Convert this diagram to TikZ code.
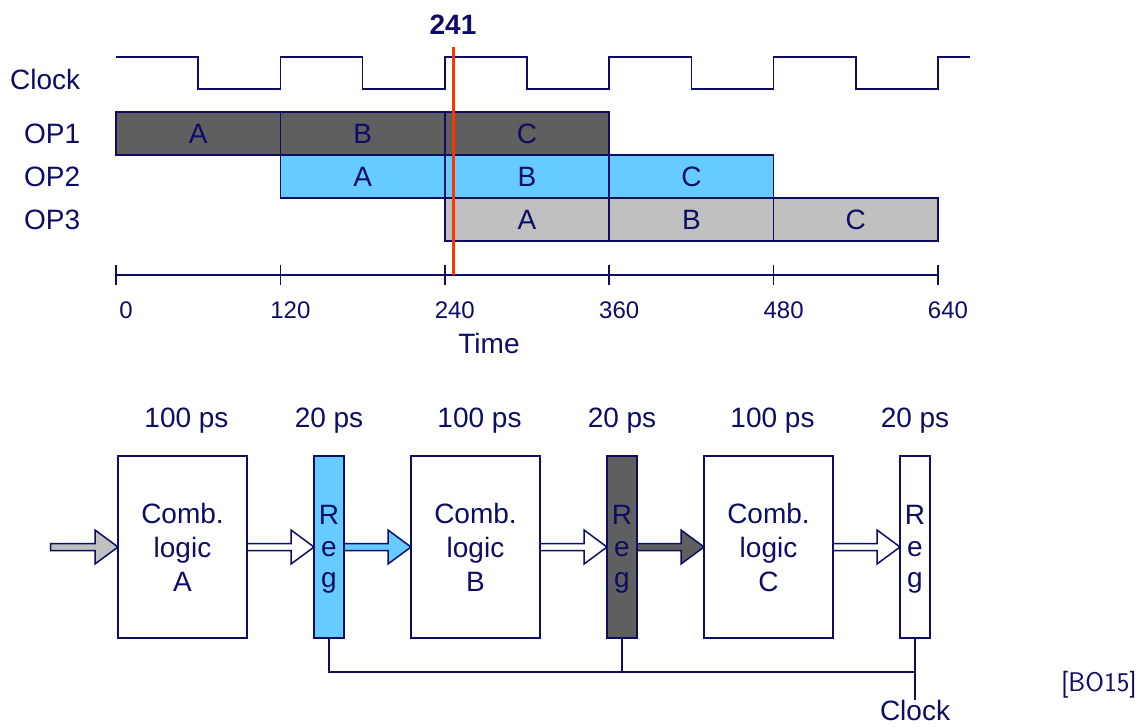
\documentclass[tikz,border=0pt]{standalone}
\usepackage{fontspec}
\setmainfont{Liberation Sans}
\usepackage{tikz}
\usetikzlibrary{positioning, calc}
\definecolor{plNavy}{HTML}{0D0D66}
\definecolor{plBlue}{HTML}{66CCFF}
\definecolor{plDark}{HTML}{5F5F5F}
\definecolor{plGray}{HTML}{C0C0C0}
\definecolor{plRed}{HTML}{FF3300}
\tikzset{
  pltext/.style={text=plNavy, font=\fontsize{28}{34}\selectfont, inner sep=0pt},
  plbar/.style={rectangle, draw=plNavy, line width=1.5pt, minimum width=164.4pt,
                minimum height=43pt, outer sep=0pt, pltext},
  plbox/.style={rectangle, draw=plNavy, line width=2pt, fill=white, minimum width=129pt,
                minimum height=182pt, outer sep=0pt, align=center, pltext},
  plreg/.style={plbox, minimum width=30pt, font=\fontsize{28}{31.5}\selectfont},
  plwire/.style={draw=plNavy, line width=1.5pt},
  plpipe/.style={draw=plNavy, line width=1.5pt, line join=miter},
  plcursor/.style={draw=plRed, line width=3pt},
}
% block arrow between two anchors, tip on the second one
\newcommand{\plpipe}[3][white]{%
  \draw[plpipe, fill=#1] ($(#2)+(0,3.5)$) -- ($(#3)+(-23,3.5)$) -- ($(#3)+(-23,17)$)
    -- (#3) -- ($(#3)+(-23,-17)$) -- ($(#3)+(-23,-3.5)$) -- ($(#2)+(0,-3.5)$) -- cycle;}

\begin{document}
\begin{tikzpicture}[x=1pt, y=1pt, node distance=0pt]
  \fill[white] (0,0) rectangle (1142,726);
  \useasboundingbox (0,0) rectangle (1142,726);
  % timing chart
  \node[pltext, anchor=west] (clkname) at (10,647) {Clock};
  \draw[plwire] (116,669) foreach \k in {0,...,4}{ -- ++(82.2,0) -- ++(0,-32) -- ++(82.2,0) -- ++(0,32)} -- ++(32,0);
  \node[pltext, anchor=west] (op1) at (24,592.5) {OP1};
  \node[pltext, anchor=west] (op2) at (24,549.5) {OP2};
  \node[pltext, anchor=west] (op3) at (24,506.5) {OP3};
  \node[plbar, fill=plDark, anchor=west] (op1a) at (116,592.5) {A};
  \node[plbar, fill=plDark, right=of op1a] (op1b) {B};
  \node[plbar, fill=plDark, right=of op1b] (op1c) {C};
  \node[plbar, fill=plBlue, below=of op1b] (op2a) {A};
  \node[plbar, fill=plBlue, right=of op2a] (op2b) {B};
  \node[plbar, fill=plBlue, right=of op2b] (op2c) {C};
  \node[plbar, fill=plGray, below=of op2b] (op3a) {A};
  \node[plbar, fill=plGray, right=of op3a] (op3b) {B};
  \node[plbar, fill=plGray, right=of op3b] (op3c) {C};
  % time axis
  \draw[plwire] (116,451) -- (938,451);
  \foreach \t/\x in {0/116, 120/280.4, 240/444.8, 360/609.2, 480/773.6, 640/938}{
    \draw[plwire] (\x,441) -- (\x,461);
    \node[pltext, font=\fontsize{24}{28}\selectfont] (t\t) at (\x+10,416) {\t};
  }
  \node[pltext] (time) at (489,383) {Time};
  % cursor
  \node[pltext, font=\fontsize{28}{34}\bfseries, anchor=base] (now) at (453,691) {241};
  \draw[plcursor] (453.5,679) -- (453.5,451);
  % pipeline
  \node[plbox] (combA) at (182.5,179) {Comb.\\logic\\A};
  \node[plreg, fill=plBlue, right=67pt of combA] (reg1) {\\[-7pt]R\\e\\g};
  \node[plbox, right=67pt of reg1] (combB) {Comb.\\logic\\B};
  \node[plreg, fill=plDark, right=67pt of combB] (reg2) {\\[-7pt]R\\e\\g};
  \node[plbox, right=67pt of reg2] (combC) {Comb.\\logic\\C};
  \node[plreg, right=67pt of combC] (reg3) {\\[-7pt]R\\e\\g};
  \node[pltext, above=22pt of combA, xshift=4pt] (dA) {100 ps};
  \node[pltext, above=22pt of reg1] (d1) {20 ps};
  \node[pltext, above=22pt of combB, xshift=4pt] (dB) {100 ps};
  \node[pltext, above=22pt of reg2] (d2) {20 ps};
  \node[pltext, above=22pt of combC, xshift=4pt] (dC) {100 ps};
  \node[pltext, above=22pt of reg3] (d3) {20 ps};
  \coordinate (in) at (50.7,179);
  \plpipe[plGray]{in}{combA.west}
  \plpipe{combA.east}{reg1.west}
  \plpipe[plBlue]{reg1.east}{combB.west}
  \plpipe{combB.east}{reg2.west}
  \plpipe[plDark]{reg2.east}{combC.west}
  \plpipe{combC.east}{reg3.west}
  % clock wiring
  \node[pltext, anchor=north] (clk) at (915,26) {Clock};
  \coordinate (bus) at (0,54);
  \draw[plwire] (reg1.south) |- (clk.north |- bus);
  \draw[plwire] (reg2.south) -- (reg2.south |- bus);
  \draw[plwire] (reg3.south) -- (clk.north);
  \node[font=\sffamily\fontsize{27}{30}\selectfont, text=plNavy, anchor=east, inner sep=0pt] (ref) at (1137,41) {[BO15]};
\end{tikzpicture}
\end{document}
